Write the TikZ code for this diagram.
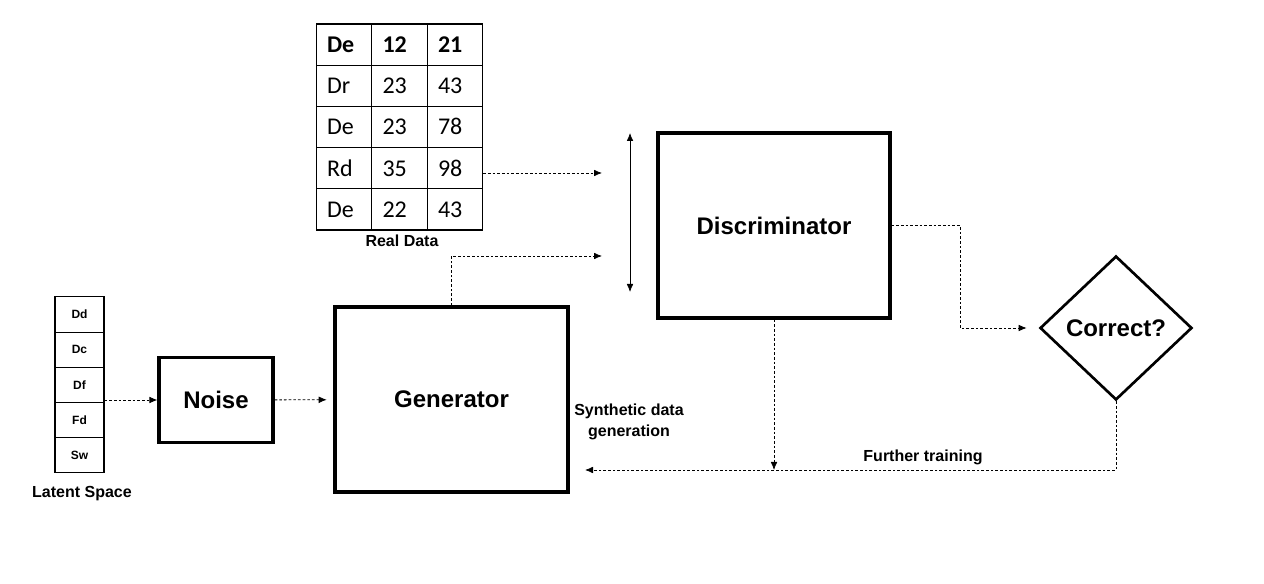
\documentclass[tikz,border=0pt]{standalone}
\usepackage{fontspec}
\setmainfont{Liberation Sans}
\newfontfamily\tabfont[Numbers=Lining]{Carlito}
\usepackage{tikz}
\usetikzlibrary{arrows.meta}
\usetikzlibrary{shapes.geometric}

\tikzset{
  cell/.style={draw=black, line width=0.8pt, minimum width=41.5pt, minimum height=30.9pt,
    inner xsep=8pt, text width=25.5pt, text height=12pt, text depth=0pt, align=left,
    font=\tabfont\fontsize{18}{20}\selectfont},
  hcell/.style={cell, font=\tabfont\bfseries\fontsize{18}{20}\selectfont},
  lcell/.style={draw=black, line width=0.8pt, minimum width=36.75pt, minimum height=26.4pt,
    font=\bfseries\fontsize{9}{10}\selectfont},
  block/.style={draw=black, line width=2.4pt, font=\bfseries\fontsize{18}{20}\selectfont},
  lbl/.style={font=\bfseries\fontsize{12}{15.75}\selectfont, align=center},
  arr/.style={-{Latex[length=6pt,width=5pt]}, line width=0.6pt, dash pattern=on 2pt off 1.5pt}
}

\begin{document}
\begin{tikzpicture}[x=0.75pt, y=-0.75pt]
    \useasboundingbox (0,0) rectangle (1264,584);
    % real data table
    \node[hcell] (T11) at (344,44.6) {De};
    \node[hcell] (T12) at (399.5,44.6) {12};
    \node[hcell] (T13) at (455,44.6) {21};
    \node[cell] (T21) at (344,85.8) {Dr};
    \node[cell] (T22) at (399.5,85.8) {23};
    \node[cell] (T23) at (455,85.8) {43};
    \node[cell] (T31) at (344,127) {De};
    \node[cell] (T32) at (399.5,127) {23};
    \node[cell] (T33) at (455,127) {78};
    \node[cell] (T41) at (344,168.2) {Rd};
    \node[cell] (T42) at (399.5,168.2) {35};
    \node[cell] (T43) at (455,168.2) {98};
    \node[cell] (T51) at (344,209.4) {De};
    \node[cell] (T52) at (399.5,209.4) {22};
    \node[cell] (T53) at (455,209.4) {43};
    \node[lbl] (R) at (402,241) {Real Data};
    % latent space
    \node[lcell] (L1) at (79.5,314.5) {Dd};
    \node[lcell] (L2) at (79.5,349.7) {Dc};
    \node[lcell] (L3) at (79.5,384.9) {Df};
    \node[lcell] (L4) at (79.5,420.1) {Fd};
    \node[lcell] (L5) at (79.5,455.3) {Sw};
    \node[lbl] (S) at (82,494) {Latent Space};
    % blocks
    \node[block, minimum width=85.5pt, minimum height=63.75pt] (N) at (216,400) {Noise};
    \node[block, minimum width=174.75pt, minimum height=138.75pt] (G) at (451.5,399.5) {Generator};
    \node[block, minimum width=174pt, minimum height=138.75pt] (D) at (774,225.5) {Discriminator};
    \node[block, diamond, line width=2pt, inner sep=0pt, minimum width=114pt, minimum height=108pt] (C) at (1116,328) {Correct?};
    \node[lbl] (Y) at (629,422) {Synthetic data\\generation};
    \node[lbl] (F) at (923,457) {Further training};
    % free ends
    \coordinate (a1) at (602,173);
    \coordinate (a2) at (602,256);
    \coordinate (v1) at (630,133);
    \coordinate (v2) at (630,292);
    \coordinate (k1) at (960,328);
    \coordinate (b1) at (774,470);
    \coordinate (b2) at (585,470);
    % connectors
    \draw [arr] (L3.south east |- N.west) -- (N.west);
    \path [arr, shorten >=5pt] (N) edge (G);
    \draw [arr] (T43.east |- a1) -- (a1);
    \draw [arr] (G.north) |- (a2);
    \draw [{Latex[length=6pt,width=5pt]}-{Latex[length=6pt,width=5pt]}, line width=0.6pt] (v1) -- (v2);
    \draw [arr, shorten >=9pt] (D.east) -| (k1) -- (C.west);
    \draw [arr] (D.south) -- (b1);
    \draw [arr] (C.south) |- (b2);
  \end{tikzpicture}
\end{document}
